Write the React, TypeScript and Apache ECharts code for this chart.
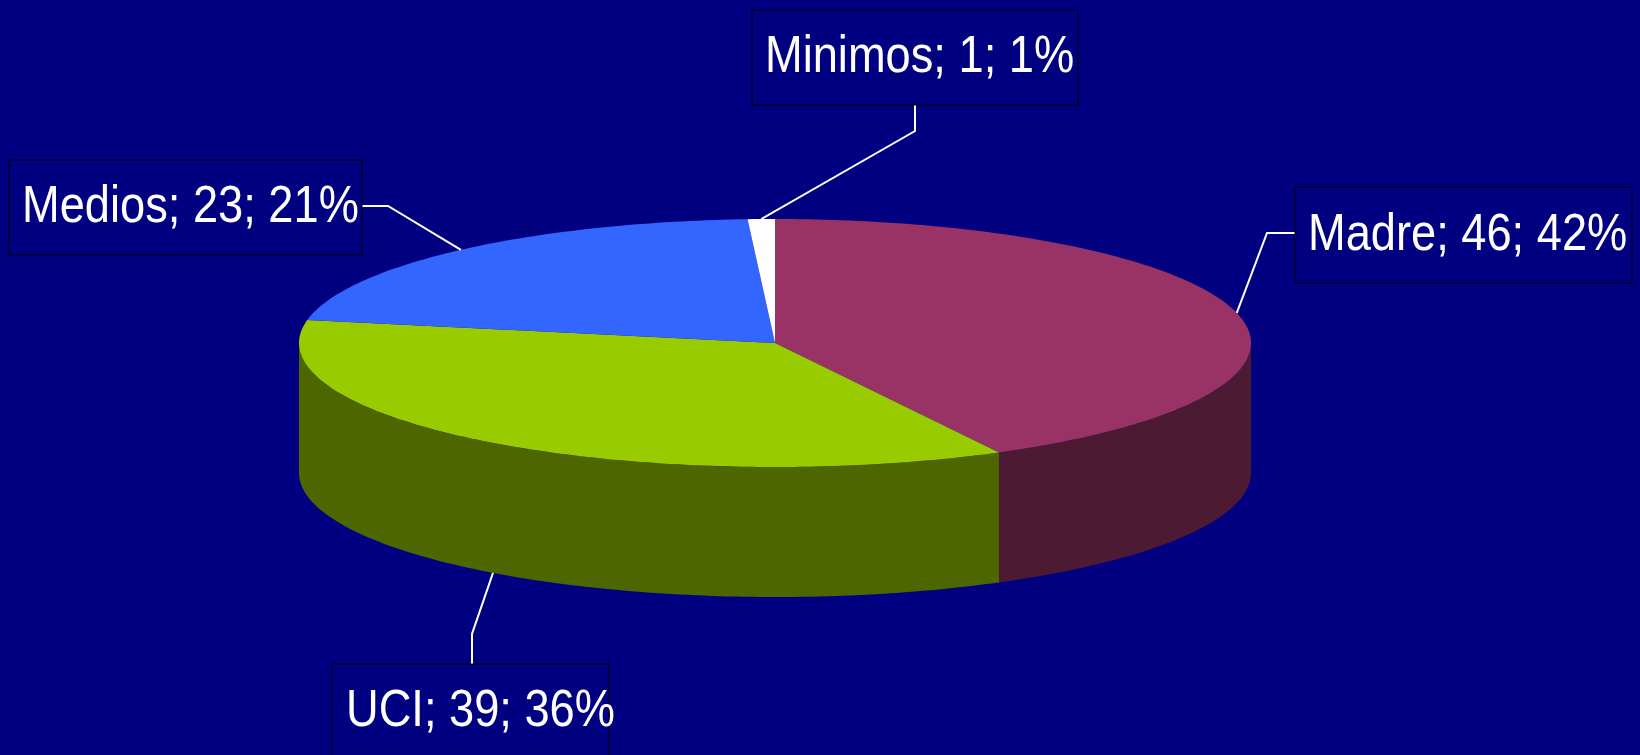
import React, { useEffect, useRef } from "react";
import * as echarts from "echarts";

// ---- data ----
const names = ["Madre", "UCI", "Medios", "Minimos"];
const values = [46, 39, 23, 1];

// ---- styles ----
const topColors = ["#993366", "#99CC00", "#3366FF", "#FFFFFF"];
const sideColors = ["#4D1A33", "#4D6600", "#1A3380", "#808080"];
const BG = "#000080";

// ---- layout (label boxes and leader elbows) ----
const boxRects = [
  [1295, 187, 337, 96],
  [332, 664, 277, 95],
  [9, 160, 353, 95],
  [752, 10, 326, 95],
];
const textPos = [
  [1308, 250],
  [346, 726],
  [22, 222],
  [765, 72],
];
const leaderElbows = [
  [[1295, 233], [1267, 233]],
  [[472, 664], [472, 634]],
  [[362, 206], [388, 206]],
  [[915, 105], [915, 131]],
];

const CX = 775, CY = 343, RX = 476, RY = 124, DEPTH = 130;
const FONT_SIZE = 52;
const SCALE_X = 0.87;

const total = values.reduce((a, b) => a + b, 0);
const cum: number[] = [];
values.reduce((acc, v, i) => { cum[i] = acc; return acc + v; }, 0);

function pt(t: number, dz: number) {
  return [CX + RX * Math.sin(t), CY - RY * Math.cos(t) + dz];
}
function arc(a: number, b: number, dz: number) {
  const n = Math.max(2, Math.ceil(((b - a) * 180) / Math.PI));
  const out: number[][] = [];
  for (let k = 0; k <= n; k++) out.push(pt(a + ((b - a) * k) / n, dz));
  return out;
}

export default function App() {
  const ref = useRef<HTMLDivElement>(null);
  useEffect(() => {
    document.body.style.margin = "0";
    const chart = echarts.init(ref.current!, null, { renderer: "svg" });
    chart.setOption({
      animation: false,
      backgroundColor: BG,
      series: [
        {
          type: "custom",
          coordinateSystem: "none",
          data: values.map((v, i) => ({ name: names[i], value: v })),
          renderItem: (params: any, api: any) => {
            const i = params.dataIndex;
            const v = api.value(0);
            const start = (cum[i] / total) * Math.PI * 2;
            const end = start + (v / total) * Math.PI * 2;
            const children: any[] = [];
            // side wall (front half only)
            const s = Math.max(start, Math.PI / 2);
            const e = Math.min(end, (Math.PI * 3) / 2);
            if (s < e) {
              const pts = arc(s, e, 0).concat(arc(s, e, DEPTH).reverse());
              children.push({
                type: "polygon",
                shape: { points: pts },
                style: { fill: sideColors[i], stroke: null },
              });
            }
            // top face
            children.push({
              type: "polygon",
              shape: { points: [[CX, CY]].concat(arc(start, end, 0)) },
              style: { fill: topColors[i], stroke: null },
            });
            // leader line
            const mid = (start + end) / 2;
            const anchor = pt(mid, Math.cos(mid) < 0 ? DEPTH : 0);
            children.push({
              type: "polyline",
              shape: { points: [leaderElbows[i][0], leaderElbows[i][1], anchor] },
              style: { stroke: "#FFFFFF", lineWidth: 2, fill: null },
            });
            // label box
            const r = boxRects[i];
            children.push({
              type: "rect",
              shape: { x: r[0], y: r[1], width: r[2], height: r[3] },
              style: { fill: BG, stroke: "#000000", lineWidth: 1 },
            });
            const pct = Math.round((v / total) * 100);
            children.push({
              type: "text",
              x: textPos[i][0],
              y: textPos[i][1] - 18,
              scaleX: SCALE_X,
              style: {
                text: `${names[i]}; ${v}; ${pct}%`,
                x: 0,
                y: 0,
                fill: "#FFFFFF",
                font: `${FONT_SIZE}px "Liberation Sans", Arial, sans-serif`,
                verticalAlign: "middle",
                align: "left",
              },
            });
            return { type: "group", children };
          },
        },
      ],
    });
    return () => chart.dispose();
  }, []);
  return (
    <div
      ref={ref}
      style={{ position: "absolute", left: 0, top: 0, width: 1640, height: 755 }}
    />
  );
}
